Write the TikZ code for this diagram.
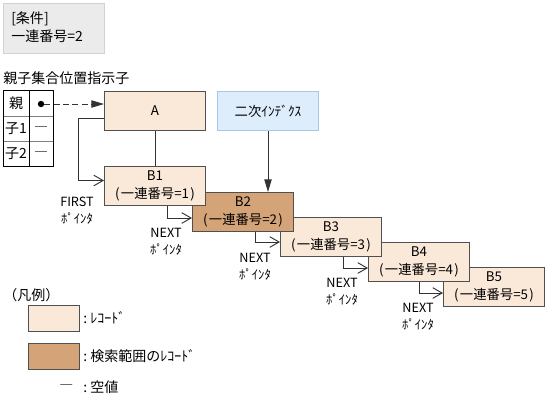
\documentclass[tikz,border=0pt]{standalone}
\usepackage{fontspec}
\setmainfont{Noto Sans CJK JP}
\usetikzlibrary{arrows.meta,calc}
\definecolor{recfill}{HTML}{FAE8D8}
\definecolor{recdraw}{HTML}{505050}
\definecolor{hitfill}{HTML}{D4A478}
\definecolor{idxfill}{HTML}{DDEDFC}
\definecolor{idxdraw}{HTML}{A8C8E8}
\definecolor{condfill}{HTML}{EBEBEB}
\definecolor{conddraw}{HTML}{D2D2D2}
\def\px{0.75pt}
\tikzset{
  rec/.style={draw=recdraw, fill=recfill, line width=0.75pt, minimum width=101*\px, minimum height=39*\px, inner sep=0pt, anchor=north west, align=center, font=\fontsize{10}{13.5}\selectfont},
  hit/.style={rec, fill=hitfill},
  idxbox/.style={rec, draw=idxdraw, fill=idxfill},
  conn/.style={line width=0.75pt, draw=black!80},
  openarr/.style={conn, -{Straight Barb[length=7pt,width=8pt,line width=0.7pt]}},
  fillarr/.style={conn, -{Triangle[length=9.5pt,width=5.5pt]}},
  lbl/.style={align=center, inner sep=0pt, font=\fontsize{9.5}{12.5}\selectfont},
  txt/.style={inner sep=0pt, anchor=west},
}
\begin{document}
\begin{tikzpicture}[x=0.75pt,y=-0.75pt, font=\fontsize{10.5}{13.5}\selectfont]
\useasboundingbox (0,0) rectangle (548,405);
% condition box
\node[draw=conddraw, fill=condfill, line width=0.75pt, minimum width=101*\px, minimum height=50*\px, anchor=north west, inner sep=0pt] (cond) at (3,3) {};
\node[txt, align=left, anchor=north west] (condtxt) at (11,11) {[条件]\\一連番号=2};
% title
\node[txt] (title) at (3,78) {親子集合位置指示子};
% table
\draw[black!50, line width=0.75pt] (3,116) -- (53,116) (3,141) -- (53,141);
\draw[black, line width=0.75pt] (3,90) rectangle (53,166) (29,90) -- (29,166);
\node (t1) at (16,103) {親};
\node (t2) at (16,128.5) {子1};
\node (t3) at (16,153.5) {子2};
\node[circle, fill=black, inner sep=1.7pt] (dot) at (41,104) {};
\node (n2) at (41,130) {―};
\node (n3) at (41,155) {―};
% records (earlier records lie on top of later ones)
\node[rec] (A) at (104,91) {A};
\node[idxbox] (idx) at (217,91) {二次ｲﾝﾃﾞｸｽ};
\node[rec] (B5) at (443,267) {B5\\(\kern1pt 一連番号=5\kern1pt)};
\node[rec] (B4) at (368,242) {B4\\(\kern1pt 一連番号=4\kern1pt)};
\node[rec] (B3) at (280,217) {B3\\(\kern1pt 一連番号=3\kern1pt)};
\node[hit] (B2) at (192,192) {B2\\(\kern1pt 一連番号=2\kern1pt)};
\node[rec] (B1) at (104,166) {B1\\(\kern1pt 一連番号=1\kern1pt)};
% connectors
\draw[fillarr, dash pattern=on 4.5pt off 2.5pt] (dot) -- (A.west |- dot);
\draw[conn] (A.south) -- (B1.north);
\draw[fillarr] (idx.south) -- (idx.south |- B2.north);
\draw[openarr] ($(A.south west)+(0,-13)$) -| ($(B1.west)+(-26,-5.5)$) -- ($(B1.west)+(0,-5.5)$);
\draw[openarr] ($(B1.south west)+(63,0)$) |- ($(B2.north west)+(0,26)$);
\draw[openarr] ($(B2.south west)+(63,0)$) |- ($(B3.north west)+(0,25)$);
\draw[openarr] ($(B3.south west)+(63,0)$) |- ($(B4.north west)+(0,26)$);
\draw[openarr] ($(B4.south west)+(51,0)$) |- ($(B5.north west)+(0,26)$);
% pointer labels
\node[lbl] (L0) at (77,210.5) {FIRST\\ﾎﾟｲﾝﾀ};
\node[lbl] (L1) at (166,241.5) {NEXT\\ﾎﾟｲﾝﾀ};
\node[lbl] (L2) at (255,266.5) {NEXT\\ﾎﾟｲﾝﾀ};
\node[lbl] (L3) at (342,291.5) {NEXT\\ﾎﾟｲﾝﾀ};
\node[lbl] (L4) at (418,316.5) {NEXT\\ﾎﾟｲﾝﾀ};
% legend
\node[txt] (leg) at (3,295) {（凡例）};
\node[rec, minimum width=51*\px, minimum height=26*\px] (lg1) at (28,305) {};
\node[txt] (lg1t) at (83,318) {:\ ﾚｺｰﾄﾞ};
\node[hit, minimum width=51*\px, minimum height=26*\px] (lg2) at (28,343) {};
\node[txt] (lg2t) at (83,356) {:\ 検索範囲のﾚｺｰﾄﾞ};
\node[txt] (lg3d) at (59,388) {―};
\node[txt] (lg3t) at (83,387) {:\ 空値};
\end{tikzpicture}
\end{document}
